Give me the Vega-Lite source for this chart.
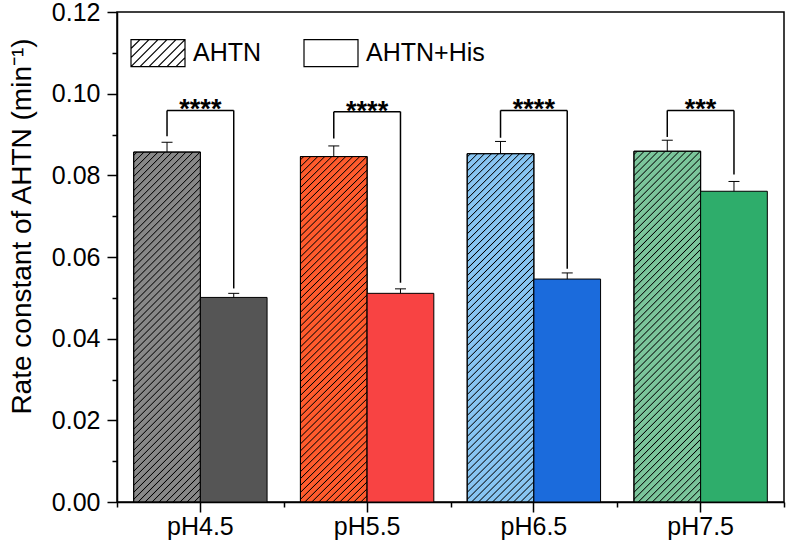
{
  "$schema": "https://vega.github.io/schema/vega-lite/v6.json",
  "width": 667,
  "height": 490,
  "autosize": "none",
  "padding": {"left": 117, "top": 12, "right": 3, "bottom": 38},
  "background": "white",
  "config": {
    "view": {"stroke": "black", "strokeWidth": 1.5},
    "font": "Liberation Sans",
    "axis": {
      "domainColor": "black", "tickColor": "black", "labelColor": "black", "titleColor": "black",
      "domainWidth": 1.5, "tickWidth": 1.5, "grid": false,
      "labelFont": "Liberation Sans", "titleFont": "Liberation Sans",
      "labelFontSize": 25, "titleFontSize": 28, "titleFontWeight": "normal"
    },
    "legend": {"labelFont": "Liberation Sans", "labelColor": "black"}
  },
  "datasets": {
    "bars": [
      {"pH": "pH4.5", "treatment": "AHTN", "k": 0.0857, "hi": 0.0881},
      {"pH": "pH4.5", "treatment": "AHTN+His", "k": 0.0501, "hi": 0.0511},
      {"pH": "pH5.5", "treatment": "AHTN", "k": 0.0846, "hi": 0.0872},
      {"pH": "pH5.5", "treatment": "AHTN+His", "k": 0.0511, "hi": 0.0522},
      {"pH": "pH6.5", "treatment": "AHTN", "k": 0.0853, "hi": 0.0883},
      {"pH": "pH6.5", "treatment": "AHTN+His", "k": 0.0546, "hi": 0.0561},
      {"pH": "pH7.5", "treatment": "AHTN", "k": 0.0859, "hi": 0.0886},
      {"pH": "pH7.5", "treatment": "AHTN+His", "k": 0.0761, "hi": 0.0785}
    ],
    "brackets": [
      {"pH": "pH4.5", "lo1": 0.0896, "lo2": 0.0523, "top": 0.0959, "sig": "****"},
      {"pH": "pH5.5", "lo1": 0.0890, "lo2": 0.0537, "top": 0.0956, "sig": "****"},
      {"pH": "pH6.5", "lo1": 0.0892, "lo2": 0.0571, "top": 0.0959, "sig": "****"},
      {"pH": "pH7.5", "lo1": 0.0894, "lo2": 0.0802, "top": 0.0959, "sig": "***"}
    ]
  },
  "layer": [
    {
      "data": {"name": "bars"},
      "transform": [{"filter": "datum.treatment === 'AHTN'"}],
      "mark": {"type": "bar", "stroke": "black", "strokeWidth": 1},
      "encoding": {
        "x": {"field": "pH", "type": "nominal", "scale": {"paddingInner": 0, "paddingOuter": 0},
              "axis": {"title": null, "labelAngle": 0, "tickSize": 10, "labelPadding": 2, "orient": "bottom"}},
        "xOffset": {"field": "treatment", "type": "nominal", "scale": {"domain": ["AHTN", "AHTN+His"], "paddingInner": 0, "paddingOuter": 0.25}},
        "y": {"field": "k", "type": "quantitative", "scale": {"domain": [0, 0.12], "nice": false},
              "axis": {"values": [0, 0.02, 0.04, 0.06, 0.08, 0.1, 0.12], "format": ".2f", "tickSize": 10, "labelPadding": 7,
                       "title": "Rate constant of AHTN (min⁻¹)", "titleX": -81, "titleY": 214, "titleAngle": -90, "titleBaseline": "bottom", "titleAlign": "center", "orient": "left"}},
        "color": {"field": "pH", "type": "nominal",
                  "scale": {"domain": ["pH4.5", "pH5.5", "pH6.5", "pH7.5"], "range": ["#888888", "#FF5B2D", "#88C5F2", "#7BC59B"]},
                  "legend": null}
      }
    },
    {
      "data": {"name": "bars"},
      "transform": [{"filter": "datum.treatment === 'AHTN'"}],
      "mark": {"type": "bar", "stroke": "black", "strokeWidth": 1,
        "fill": {"gradient": "linear", "x1": 0, "y1": 0, "x2": 0.2196, "y2": 1.1492, "stops": [
          {"offset":0.0054,"color":"#0000"},{"offset":0.0080,"color":"#000"},{"offset":0.0106,"color":"#0000"},
          {"offset":0.0222,"color":"#0000"},{"offset":0.0248,"color":"#000"},{"offset":0.0274,"color":"#0000"},
          {"offset":0.0391,"color":"#0000"},{"offset":0.0417,"color":"#000"},{"offset":0.0443,"color":"#0000"},
          {"offset":0.0559,"color":"#0000"},{"offset":0.0585,"color":"#000"},{"offset":0.0611,"color":"#0000"},
          {"offset":0.0728,"color":"#0000"},{"offset":0.0754,"color":"#000"},{"offset":0.0780,"color":"#0000"},
          {"offset":0.0896,"color":"#0000"},{"offset":0.0922,"color":"#000"},{"offset":0.0948,"color":"#0000"},
          {"offset":0.1064,"color":"#0000"},{"offset":0.1090,"color":"#000"},{"offset":0.1116,"color":"#0000"},
          {"offset":0.1233,"color":"#0000"},{"offset":0.1259,"color":"#000"},{"offset":0.1285,"color":"#0000"},
          {"offset":0.1401,"color":"#0000"},{"offset":0.1427,"color":"#000"},{"offset":0.1453,"color":"#0000"},
          {"offset":0.1570,"color":"#0000"},{"offset":0.1596,"color":"#000"},{"offset":0.1622,"color":"#0000"},
          {"offset":0.1738,"color":"#0000"},{"offset":0.1764,"color":"#000"},{"offset":0.1790,"color":"#0000"},
          {"offset":0.1906,"color":"#0000"},{"offset":0.1932,"color":"#000"},{"offset":0.1958,"color":"#0000"},
          {"offset":0.2075,"color":"#0000"},{"offset":0.2101,"color":"#000"},{"offset":0.2127,"color":"#0000"},
          {"offset":0.2243,"color":"#0000"},{"offset":0.2269,"color":"#000"},{"offset":0.2295,"color":"#0000"},
          {"offset":0.2412,"color":"#0000"},{"offset":0.2438,"color":"#000"},{"offset":0.2464,"color":"#0000"},
          {"offset":0.2580,"color":"#0000"},{"offset":0.2606,"color":"#000"},{"offset":0.2632,"color":"#0000"},
          {"offset":0.2748,"color":"#0000"},{"offset":0.2774,"color":"#000"},{"offset":0.2800,"color":"#0000"},
          {"offset":0.2917,"color":"#0000"},{"offset":0.2943,"color":"#000"},{"offset":0.2969,"color":"#0000"},
          {"offset":0.3085,"color":"#0000"},{"offset":0.3111,"color":"#000"},{"offset":0.3137,"color":"#0000"},
          {"offset":0.3254,"color":"#0000"},{"offset":0.3280,"color":"#000"},{"offset":0.3306,"color":"#0000"},
          {"offset":0.3422,"color":"#0000"},{"offset":0.3448,"color":"#000"},{"offset":0.3474,"color":"#0000"},
          {"offset":0.3590,"color":"#0000"},{"offset":0.3616,"color":"#000"},{"offset":0.3642,"color":"#0000"},
          {"offset":0.3759,"color":"#0000"},{"offset":0.3785,"color":"#000"},{"offset":0.3811,"color":"#0000"},
          {"offset":0.3927,"color":"#0000"},{"offset":0.3953,"color":"#000"},{"offset":0.3979,"color":"#0000"},
          {"offset":0.4096,"color":"#0000"},{"offset":0.4122,"color":"#000"},{"offset":0.4148,"color":"#0000"},
          {"offset":0.4264,"color":"#0000"},{"offset":0.4290,"color":"#000"},{"offset":0.4316,"color":"#0000"},
          {"offset":0.4432,"color":"#0000"},{"offset":0.4458,"color":"#000"},{"offset":0.4484,"color":"#0000"},
          {"offset":0.4601,"color":"#0000"},{"offset":0.4627,"color":"#000"},{"offset":0.4653,"color":"#0000"},
          {"offset":0.4769,"color":"#0000"},{"offset":0.4795,"color":"#000"},{"offset":0.4821,"color":"#0000"},
          {"offset":0.4938,"color":"#0000"},{"offset":0.4964,"color":"#000"},{"offset":0.4990,"color":"#0000"},
          {"offset":0.5106,"color":"#0000"},{"offset":0.5132,"color":"#000"},{"offset":0.5158,"color":"#0000"},
          {"offset":0.5274,"color":"#0000"},{"offset":0.5300,"color":"#000"},{"offset":0.5326,"color":"#0000"},
          {"offset":0.5443,"color":"#0000"},{"offset":0.5469,"color":"#000"},{"offset":0.5495,"color":"#0000"},
          {"offset":0.5611,"color":"#0000"},{"offset":0.5637,"color":"#000"},{"offset":0.5663,"color":"#0000"},
          {"offset":0.5780,"color":"#0000"},{"offset":0.5806,"color":"#000"},{"offset":0.5832,"color":"#0000"},
          {"offset":0.5948,"color":"#0000"},{"offset":0.5974,"color":"#000"},{"offset":0.6000,"color":"#0000"},
          {"offset":0.6116,"color":"#0000"},{"offset":0.6142,"color":"#000"},{"offset":0.6168,"color":"#0000"},
          {"offset":0.6285,"color":"#0000"},{"offset":0.6311,"color":"#000"},{"offset":0.6337,"color":"#0000"},
          {"offset":0.6453,"color":"#0000"},{"offset":0.6479,"color":"#000"},{"offset":0.6505,"color":"#0000"},
          {"offset":0.6622,"color":"#0000"},{"offset":0.6648,"color":"#000"},{"offset":0.6674,"color":"#0000"},
          {"offset":0.6790,"color":"#0000"},{"offset":0.6816,"color":"#000"},{"offset":0.6842,"color":"#0000"},
          {"offset":0.6958,"color":"#0000"},{"offset":0.6984,"color":"#000"},{"offset":0.7010,"color":"#0000"},
          {"offset":0.7127,"color":"#0000"},{"offset":0.7153,"color":"#000"},{"offset":0.7179,"color":"#0000"},
          {"offset":0.7295,"color":"#0000"},{"offset":0.7321,"color":"#000"},{"offset":0.7347,"color":"#0000"},
          {"offset":0.7464,"color":"#0000"},{"offset":0.7490,"color":"#000"},{"offset":0.7516,"color":"#0000"},
          {"offset":0.7632,"color":"#0000"},{"offset":0.7658,"color":"#000"},{"offset":0.7684,"color":"#0000"},
          {"offset":0.7800,"color":"#0000"},{"offset":0.7826,"color":"#000"},{"offset":0.7852,"color":"#0000"},
          {"offset":0.7969,"color":"#0000"},{"offset":0.7995,"color":"#000"},{"offset":0.8021,"color":"#0000"},
          {"offset":0.8137,"color":"#0000"},{"offset":0.8163,"color":"#000"},{"offset":0.8189,"color":"#0000"},
          {"offset":0.8306,"color":"#0000"},{"offset":0.8332,"color":"#000"},{"offset":0.8358,"color":"#0000"},
          {"offset":0.8474,"color":"#0000"},{"offset":0.8500,"color":"#000"},{"offset":0.8526,"color":"#0000"},
          {"offset":0.8642,"color":"#0000"},{"offset":0.8668,"color":"#000"},{"offset":0.8694,"color":"#0000"},
          {"offset":0.8811,"color":"#0000"},{"offset":0.8837,"color":"#000"},{"offset":0.8863,"color":"#0000"},
          {"offset":0.8979,"color":"#0000"},{"offset":0.9005,"color":"#000"},{"offset":0.9031,"color":"#0000"},
          {"offset":0.9148,"color":"#0000"},{"offset":0.9174,"color":"#000"},{"offset":0.9200,"color":"#0000"},
          {"offset":0.9316,"color":"#0000"},{"offset":0.9342,"color":"#000"},{"offset":0.9368,"color":"#0000"},
          {"offset":0.9484,"color":"#0000"},{"offset":0.9510,"color":"#000"},{"offset":0.9536,"color":"#0000"},
          {"offset":0.9653,"color":"#0000"},{"offset":0.9679,"color":"#000"},{"offset":0.9705,"color":"#0000"},
          {"offset":0.9821,"color":"#0000"},{"offset":0.9847,"color":"#000"},{"offset":0.9873,"color":"#0000"}
        ]}},
      "encoding": {
        "x": {"field": "pH", "type": "nominal", "axis": null},
        "xOffset": {"field": "treatment", "type": "nominal"},
        "y": {"field": "k", "type": "quantitative", "axis": null}
      }
    },
    {
      "data": {"name": "bars"},
      "transform": [{"filter": "datum.treatment === 'AHTN+His'"}],
      "mark": {"type": "bar", "stroke": "black", "strokeWidth": 1},
      "encoding": {
        "x": {"field": "pH", "type": "nominal",
              "axis": {"title": null, "tickBand": "extent", "labels": false, "tickSize": 5, "domain": false, "orient": "bottom"}},
        "xOffset": {"field": "treatment", "type": "nominal"},
        "y": {"field": "k", "type": "quantitative",
              "axis": {"values": [0.01, 0.03, 0.05, 0.07, 0.09, 0.11], "labels": false, "tickSize": 5, "domain": false, "title": null, "orient": "left"}},
        "color": {"field": "pH", "type": "nominal",
                  "scale": {"domain": ["pH4.5", "pH5.5", "pH6.5", "pH7.5"], "range": ["#555555", "#F84343", "#1B6BDC", "#2EAD6B"]},
                  "legend": null}
      }
    },
    {
      "data": {"name": "bars"},
      "mark": {"type": "rule", "color": "black", "strokeWidth": 1},
      "encoding": {
        "x": {"field": "pH", "type": "nominal", "axis": null},
        "xOffset": {"field": "treatment", "type": "nominal"},
        "y": {"field": "k", "type": "quantitative", "axis": null},
        "y2": {"field": "hi"}
      }
    },
    {
      "data": {"name": "bars"},
      "mark": {"type": "tick", "orient": "horizontal", "color": "black", "size": 11, "thickness": 1, "opacity": 1},
      "encoding": {
        "x": {"field": "pH", "type": "nominal", "axis": null},
        "xOffset": {"field": "treatment", "type": "nominal"},
        "y": {"field": "hi", "type": "quantitative", "axis": null}
      }
    },
    {
      "data": {"name": "brackets"},
      "mark": {"type": "rule", "color": "black", "strokeWidth": 1.5},
      "encoding": {
        "x": {"field": "pH", "type": "nominal", "bandPosition": 0.3, "axis": null},
        "y": {"field": "lo1", "type": "quantitative", "axis": null},
        "y2": {"field": "top"}
      }
    },
    {
      "data": {"name": "brackets"},
      "mark": {"type": "rule", "color": "black", "strokeWidth": 1.5},
      "encoding": {
        "x": {"field": "pH", "type": "nominal", "bandPosition": 0.7, "axis": null},
        "y": {"field": "lo2", "type": "quantitative", "axis": null},
        "y2": {"field": "top"}
      }
    },
    {
      "data": {"name": "brackets"},
      "mark": {"type": "rule", "color": "black", "strokeWidth": 1.5},
      "encoding": {
        "x": {"field": "pH", "type": "nominal", "bandPosition": 0.3, "axis": null},
        "x2": {"field": "pH", "bandPosition": 0.7},
        "y": {"field": "top", "type": "quantitative", "axis": null}
      }
    },
    {
      "data": {"name": "brackets"},
      "mark": {"type": "text", "color": "black", "fontSize": 27, "fontWeight": "bold", "font": "Liberation Sans", "baseline": "alphabetic", "dy": 8},
      "encoding": {
        "x": {"field": "pH", "type": "nominal", "axis": null},
        "y": {"field": "top", "type": "quantitative", "axis": null},
        "text": {"field": "sig"}
      }
    },
    {
      "data": {"name": "bars"},
      "mark": {"type": "point", "filled": false, "color": "black", "opacity": 0, "strokeWidth": 1.2},
      "encoding": {
        "x": {"field": "pH", "type": "nominal", "axis": null},
        "xOffset": {"field": "treatment", "type": "nominal"},
        "y": {"field": "k", "type": "quantitative", "axis": null},
        "shape": {"field": "treatment", "type": "nominal",
          "scale": {"domain": ["AHTN", "AHTN+His"],
                    "range": ["M-1,-0.5H1V0.5H-1Z M-1,-0.167L-0.667,-0.5 M-1,0.167L-0.333,-0.5 M-1,0.5L0,-0.5 M-0.667,0.5L0.333,-0.5 M-0.333,0.5L0.667,-0.5 M0,0.5L1,-0.5 M0.333,0.5L1,-0.167 M0.667,0.5L1,0.167",
                              "M-1,-0.5H1V0.5H-1Z"]},
          "legend": {"title": null, "orient": "top-left", "direction": "horizontal", "offset": 13, "padding": 0,
                     "symbolSize": 2916, "symbolStrokeWidth": 1.2, "symbolOpacity": 1, "symbolStrokeColor": "black",
                     "symbolFillColor": "white", "labelFontSize": 25, "labelOffset": 7, "columnPadding": 39}}
      }
    }
  ],
  "resolve": {"scale": {"color": "independent"}, "axis": {"x": "independent", "y": "independent"}}
}
